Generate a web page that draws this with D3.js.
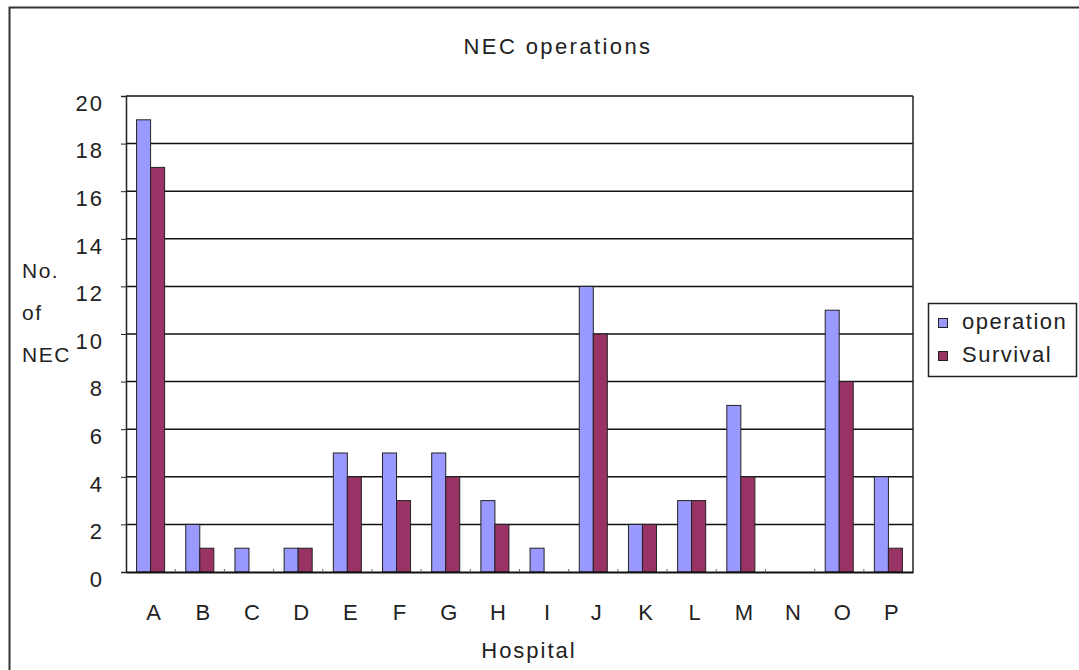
<!DOCTYPE html>
<html>
<head>
<meta charset="utf-8">
<script src="https://cdn.jsdelivr.net/npm/d3@7"></script>
<style>
  html, body { margin: 0; padding: 0; background: #fff; }
  svg { display: block; }
  text { font-family: "Liberation Sans", Arial, sans-serif; fill: #222; }
</style>
</head>
<body>
<svg id="chart" width="1079" height="670"></svg>
<script>
const categories = ["A","B","C","D","E","F","G","H","I","J","K","L","M","N","O","P"];
const operation = [19, 2, 1, 1, 5, 5, 5, 3, 1, 12, 2, 3, 7, 0, 11, 4];
const survival  = [17, 1, 0, 1, 4, 3, 4, 2, 0, 10, 2, 3, 4, 0, 8, 1];
const seriesNames = ["operation", "Survival"];
const seriesColors = ["#9999FF", "#993366"];
const yTicks = [0, 2, 4, 6, 8, 10, 12, 14, 16, 18, 20];
const title = "NEC operations";
const xTitle = "Hospital";
const yTitleLines = ["No.", "of", "NEC"];

const svg = d3.select("#chart");

// outer frame
svg.append("rect")
  .attr("x", 9.5).attr("y", 7.5).attr("width", 1100).attr("height", 700)
  .attr("fill", "none").attr("stroke", "#333").attr("stroke-width", 2);

const plot = { left: 126, top: 96, right: 913, bottom: 572 };

const x = d3.scaleBand().domain(categories)
  .range([plot.left, plot.right]).paddingInner(0.43).paddingOuter(0.215);
const xs = d3.scaleBand().domain(seriesNames).range([0, x.bandwidth()]);
const y = d3.scaleLinear().domain([0, 20]).range([plot.bottom, plot.top]);

// gridlines
svg.append("g").selectAll("line").data(yTicks.filter(d => d > 0)).join("line")
  .attr("x1", plot.left).attr("x2", plot.right)
  .attr("y1", d => y(d)).attr("y2", d => y(d))
  .attr("stroke", "#111").attr("stroke-width", 1.5);

// right border of plot
svg.append("line")
  .attr("x1", plot.right).attr("x2", plot.right)
  .attr("y1", plot.top).attr("y2", plot.bottom)
  .attr("stroke", "#222").attr("stroke-width", 1.5);

// bars
const rows = categories.map((c, i) => ({ c, vals: [operation[i], survival[i]] }));
const groups = svg.append("g").selectAll("g").data(rows).join("g")
  .attr("transform", d => `translate(${x(d.c)},0)`);
groups.selectAll("rect")
  .data(d => d.vals.map((v, j) => ({ v, s: seriesNames[j], color: seriesColors[j] })))
  .join("rect")
  .attr("x", d => xs(d.s))
  .attr("y", d => y(d.v))
  .attr("width", xs.bandwidth())
  .attr("height", d => y(0) - y(d.v))
  .attr("fill", d => d.color)
  .attr("stroke", d => d.v > 0 ? "#222" : "none")
  .attr("stroke-width", 1);

// y axis
const yAxis = d3.axisLeft(y).tickValues(yTicks).tickSize(5).tickFormat("");
const yg = svg.append("g").attr("transform", `translate(${plot.left},0)`).call(yAxis);
yg.select(".domain").attr("stroke", "#222").attr("stroke-width", 1.5);
yg.selectAll(".tick line").attr("stroke", "#222");

svg.append("g").selectAll("text").data(yTicks).join("text")
  .attr("x", 104).attr("y", d => y(d) + 9)
  .attr("text-anchor", "end").attr("dominant-baseline", "middle")
  .style("font-size", "22px").style("letter-spacing", "2px")
  .text(d => d);

// x axis
const xAxis = d3.axisBottom(x).tickSize(0).tickFormat("");
const xg = svg.append("g").attr("transform", `translate(0,${plot.bottom})`).call(xAxis);
xg.select(".domain").attr("stroke", "#111").attr("stroke-width", 2);

// small category boundary ticks
svg.append("g").selectAll("line").data(categories.slice(1)).join("line")
  .attr("x1", d => x(d) - x.step() * x.paddingInner() / 2)
  .attr("x2", d => x(d) - x.step() * x.paddingInner() / 2)
  .attr("y1", plot.bottom - 3).attr("y2", plot.bottom)
  .attr("stroke", "#666").attr("stroke-width", 1);

svg.append("g").selectAll("text").data(categories).join("text")
  .attr("x", d => x(d) + x.bandwidth() / 2 + 3)
  .attr("y", 614)
  .attr("text-anchor", "middle").attr("dominant-baseline", "middle")
  .style("font-size", "22px")
  .text(d => d);

// titles
svg.append("text")
  .attr("x", 558).attr("y", 48)
  .attr("text-anchor", "middle").attr("dominant-baseline", "middle")
  .style("font-size", "22px").style("letter-spacing", "2.4px")
  .text(title);

svg.append("text")
  .attr("x", 529).attr("y", 652)
  .attr("text-anchor", "middle").attr("dominant-baseline", "middle")
  .style("font-size", "22px").style("letter-spacing", "2px")
  .text(xTitle);

const yTitleY = [272, 314, 356];
svg.append("g").selectAll("text").data(yTitleLines).join("text")
  .attr("x", 22).attr("y", (d, i) => yTitleY[i])
  .attr("dominant-baseline", "middle")
  .style("font-size", "21px").style("letter-spacing", "1.5px")
  .text(d => d);

// legend
const lg = svg.append("g");
lg.append("rect")
  .attr("x", 928.5).attr("y", 303.5).attr("width", 148).attr("height", 73)
  .attr("fill", "#fff").attr("stroke", "#222").attr("stroke-width", 1.5);
const items = lg.selectAll("g.item").data(seriesNames).join("g").attr("class", "item")
  .attr("transform", (d, i) => `translate(938,${323 + i * 33})`);
items.append("rect")
  .attr("x", 0.5).attr("y", -4.5).attr("width", 9).attr("height", 9)
  .attr("fill", (d, i) => seriesColors[i]).attr("stroke", "#222").attr("stroke-width", 1);
items.append("text")
  .attr("x", 24).attr("y", 0).attr("dominant-baseline", "middle")
  .style("font-size", "22px").style("letter-spacing", "1.5px")
  .text(d => d);
</script>
</body>
</html>
